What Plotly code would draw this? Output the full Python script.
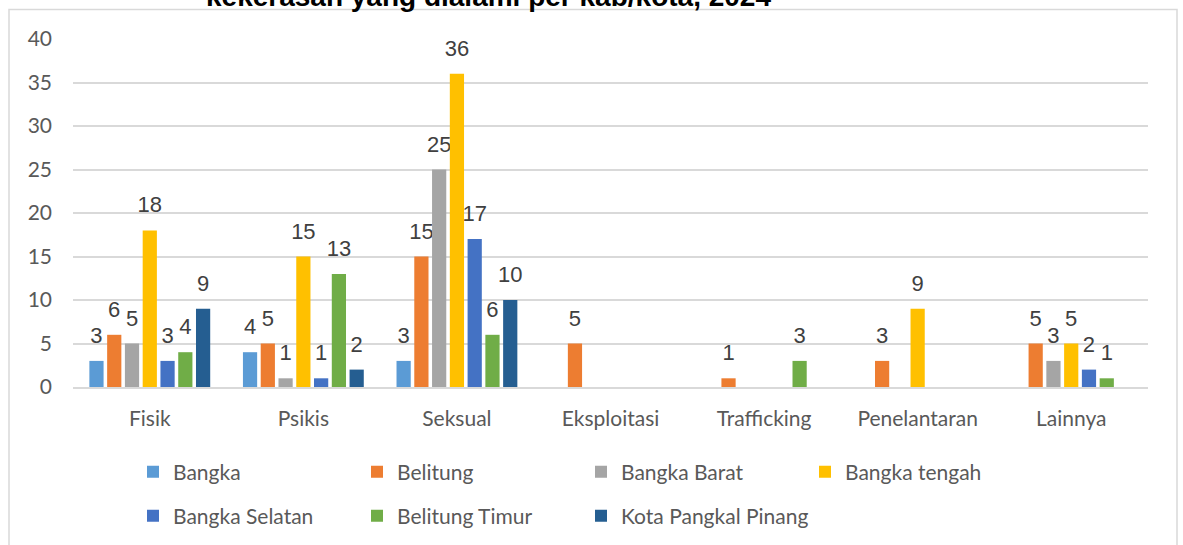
import plotly.graph_objects as go

categories = ["Fisik", "Psikis", "Seksual", "Eksploitasi", "Trafficking", "Penelantaran", "Lainnya"]

bangka = [3, 4, 3, 0, 0, 0, 0]
belitung = [6, 5, 15, 5, 1, 3, 5]
bangka_barat = [5, 1, 25, 0, 0, 0, 3]
bangka_tengah = [18, 15, 36, 0, 0, 9, 5]
bangka_selatan = [3, 1, 17, 0, 0, 0, 2]
belitung_timur = [4, 13, 6, 0, 3, 0, 1]
kota_pangkal_pinang = [9, 2, 10, 0, 0, 0, 0]

series = [
    ("Bangka", bangka, "#5B9BD5", "legend"),
    ("Belitung", belitung, "#ED7D31", "legend"),
    ("Bangka Barat", bangka_barat, "#A5A5A5", "legend"),
    ("Bangka tengah", bangka_tengah, "#FFC000", "legend"),
    ("Bangka Selatan", bangka_selatan, "#4472C4", "legend2"),
    ("Belitung Timur", belitung_timur, "#70AD47", "legend2"),
    ("Kota Pangkal Pinang", kota_pangkal_pinang, "#255E91", "legend2"),
]

def label(v):
    # blank second line lifts the number a bit above the bar, like Excel does
    if not v:
        return ""
    return '<span style="font-size:22px">%d</span><br>\u00a0' % v

fig = go.Figure()
for name, vals, color, leg in series:
    fig.add_trace(go.Bar(
        x=categories, y=vals, name=name, legend=leg,
        marker=dict(color=color, line=dict(width=0)),
        text=[label(v) for v in vals],
        textposition="outside", constraintext="none", cliponaxis=False,
        textfont=dict(family="Liberation Sans, Arial", size=10, color="#404040"),
    ))

# empty entry so the second legend row is wide enough for the long last name
fig.add_trace(go.Scatter(
    x=[None], y=[None], name="", legend="legend2", mode="markers",
    marker=dict(size=0, color="rgba(0,0,0,0)", line=dict(width=0)), hoverinfo="skip",
))

# plot area in px: x 73..1148, y 39..387
def px_x(p):
    return (p - 73) / 1075

def px_y(p):
    return (387 - p) / 348

legend_style = dict(
    orientation="h", xanchor="left", yanchor="middle",
    font=dict(family="Lato, Open Sans", size=21, color="#595959"),
    entrywidth=179, bgcolor="rgba(0,0,0,0)", itemclick=False,
)

fig.update_layout(
    width=1183, height=545,
    margin=dict(l=73, r=35, t=39, b=158, autoexpand=False),
    paper_bgcolor="white", plot_bgcolor="white",
    barmode="group", bargap=0.19, bargroupgap=0.2,
    showlegend=True,
    legend=dict(x=px_x(133), y=px_y(472), **legend_style),
    legend2=dict(x=px_x(133), y=px_y(516), **legend_style),
    xaxis=dict(
        showgrid=False, showline=True, linecolor="#d9d9d9", linewidth=1.5,
        ticks="", ticklabelstandoff=12,
        tickfont=dict(family="Lato, Open Sans", size=21, color="#595959"),
    ),
    yaxis=dict(
        range=[0, 40], dtick=5, showgrid=True, gridcolor="#d9d9d9", gridwidth=1.5,
        zeroline=False, showline=False, ticks="",
        tickfont=dict(family="Lato, Open Sans", size=21, color="#595959"),
        ticklabelstandoff=20,
    ),
    shapes=[dict(
        type="rect", xref="paper", yref="paper",
        x0=px_x(9), x1=px_x(1177), y0=px_y(600), y1=px_y(9.5),
        line=dict(color="#d9d9d9", width=1.5), fillcolor="rgba(0,0,0,0)", layer="below",
    )],
    annotations=[dict(
        text="<b>kekerasan yang dialami per kab/kota, 2024</b>",
        xref="paper", yref="paper", x=px_x(488), y=px_y(14.5),
        xanchor="center", yanchor="bottom", showarrow=False,
        font=dict(family="Liberation Sans, Arial", size=28, color="black"),
    )],
)

fig.write_html("out.html", config={"displayModeBar": False},
               post_script="document.body.style.margin = '0px';")
